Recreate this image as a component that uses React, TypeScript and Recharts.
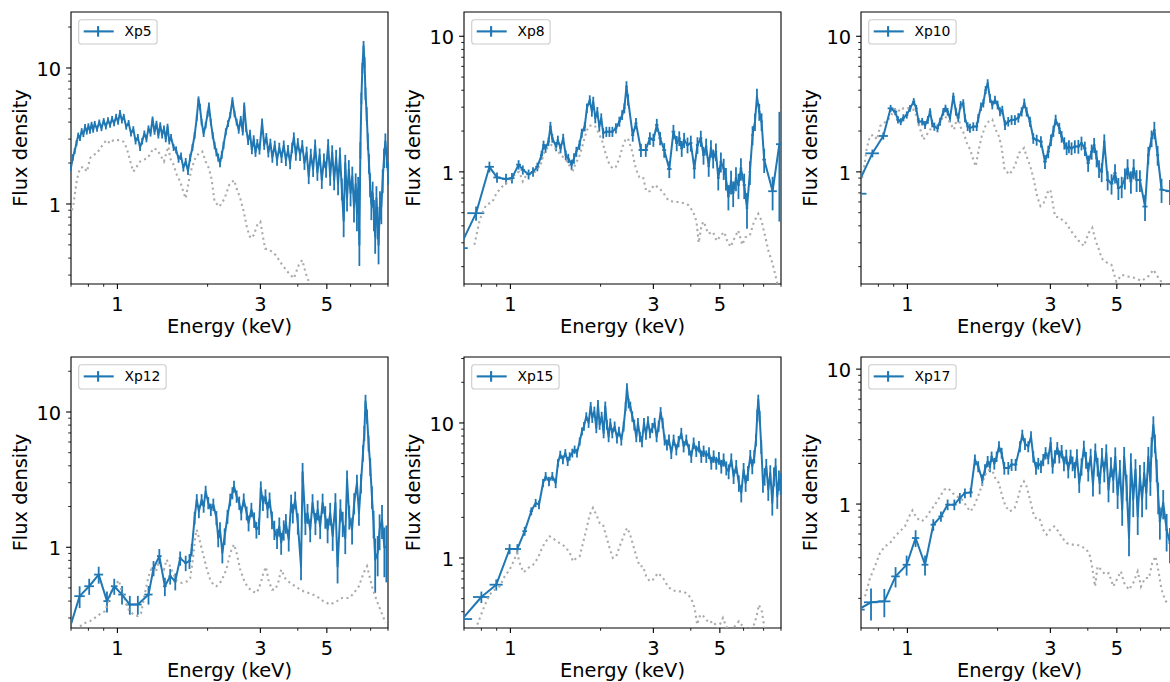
import React from 'react';
import { ComposedChart, Scatter, XAxis, YAxis, ErrorBar, ReferenceArea, Legend } from 'recharts';

const BLUE = '#1f77b4';
const GRAY = '#ababab';
const FONT = '"DejaVu Sans", sans-serif';

// axis range and tick values
const X_MIN = 0.7;
const X_MAX = 8;
const X_TICKS = [0.7, 0.8, 0.9, 1, 2, 3, 4, 5, 6, 7, 8];
const X_LABELED = [1, 3, 5];
const Y_TICKS = [0.1, 0.2, 0.3, 0.4, 0.5, 0.6, 0.7, 0.8, 0.9, 1, 2, 3, 4, 5, 6, 7, 8, 9, 10, 20, 30];
const Y_LABELED = [1, 10];

// observed spectra: [energy keV, flux, flux error, energy half-width]
const xp5Obs: number[][] = [
  [0.70,1.85,0.1],[0.71,2.2,0.12],[0.72,2.45,0.12],[0.73,2.8,0.14],[0.74,3.2,0.15],[0.75,3.05,0.15],[0.76,3.45,0.16],[0.77,3.25,0.15],
  [0.78,3.7,0.17],[0.79,3.4,0.16],[0.80,3.75,0.17],[0.81,3.45,0.16],[0.82,3.85,0.17],[0.83,3.5,0.16],[0.84,3.9,0.18],[0.855,3.55,0.16],
  [0.87,4.0,0.18],[0.885,3.6,0.17],[0.90,4.1,0.18],[0.915,3.7,0.17],[0.93,4.15,0.19],[0.945,3.8,0.17],[0.96,4.25,0.19],[0.975,3.9,0.18],
  [0.99,4.4,0.2],[1.005,4.0,0.18],[1.02,4.7,0.21],[1.035,4.1,0.19],[1.05,4.4,0.2],[1.07,3.7,0.18],[1.09,3.95,0.19],[1.11,3.3,0.17],
  [1.13,3.55,0.18],[1.15,2.9,0.16],[1.17,3.1,0.17],[1.19,2.6,0.15],[1.21,2.9,0.16],[1.23,3.3,0.17],[1.25,3.0,0.16],[1.27,3.6,0.18],
  [1.29,3.3,0.17],[1.31,4.2,0.2],[1.33,3.4,0.17],[1.35,3.9,0.19],[1.37,3.2,0.17],[1.39,3.8,0.19],[1.41,3.2,0.17],[1.43,3.6,0.18],
  [1.45,3.0,0.16],[1.47,3.7,0.19],[1.49,2.9,0.16],[1.51,3.1,0.17],[1.54,2.6,0.15],[1.57,2.5,0.15],[1.60,2.15,0.14],[1.63,2.25,0.14],
  [1.66,1.85,0.12],[1.69,2.05,0.13],[1.72,1.75,0.12],[1.75,2.2,0.14],[1.78,2.6,0.15],[1.81,3.2,0.18],[1.84,4.3,0.22],[1.865,5.9,0.28],
  [1.885,5.2,0.26],[1.91,4.0,0.22],[1.94,3.3,0.19],[1.97,3.8,0.21],[2.0,4.6,0.24],[2.02,5.3,0.27],[2.05,4.0,0.22],[2.08,3.2,0.19],
  [2.11,2.7,0.17],[2.14,2.4,0.16],[2.17,2.2,0.15],[2.20,2.0,0.14],[2.23,2.3,0.15],[2.26,2.7,0.17],[2.30,3.4,0.2],[2.34,3.9,0.22],
  [2.38,4.5,0.24],[2.42,5.8,0.3],[2.46,4.6,0.25],[2.50,4.0,0.23],[2.54,3.5,0.21],[2.58,4.2,0.24],[2.62,3.4,0.21],[2.65,5.3,0.28],
  [2.69,3.6,0.22],[2.73,2.9,0.19],[2.77,3.3,0.21],[2.81,2.5,0.18],[2.85,3.0,0.2],[2.89,2.4,0.18],[2.93,2.8,0.2],[2.98,2.5,0.19],
  [3.04,4.0,0.26],[3.09,2.7,0.2],[3.14,3.1,0.22],[3.19,2.4,0.2],[3.24,2.8,0.22],[3.29,2.2,0.19],[3.35,2.7,0.22],[3.41,2.1,0.19],
  [3.47,2.6,0.22],[3.53,2.2,0.2],[3.59,2.7,0.23],[3.65,2.1,0.2],[3.71,2.5,0.22],[3.77,2.0,0.2],[3.83,2.6,0.23],[3.88,3.1,0.26],
  [3.94,2.3,0.22],[4.0,2.8,0.25],[4.07,2.3,0.23],[4.14,2.7,0.25],[4.21,2.0,0.22],[4.28,2.4,0.24],[4.35,1.6,0.2],[4.42,2.3,0.25],
  [4.50,1.8,0.22],[4.57,2.7,0.28],[4.65,1.7,0.22],[4.73,2.3,0.26],[4.81,1.5,0.21],[4.89,2.1,0.25],[4.97,1.8,0.24],[5.05,2.7,0.3],
  [5.13,1.6,0.24],[5.21,2.4,0.3],[5.29,1.5,0.24],[5.37,2.2,0.3],[5.45,1.4,0.24],[5.53,2.3,0.3],[5.61,1.3,0.24],[5.69,0.75,0.18],
  [5.76,2.0,0.3],[5.84,1.1,0.22],[5.92,1.8,0.3],[6.0,1.2,0.24],[6.08,1.6,0.28],[6.16,0.95,0.22],[6.24,1.4,0.28],[6.30,0.85,0.22],
  [6.36,1.3,0.28],[6.42,0.5,0.15],[6.47,2.5,0.35],[6.52,6.0,0.6],[6.57,10.0,0.9],[6.63,14.5,1.3],[6.68,11.0,1.0],[6.73,6.5,0.7],
  [6.79,4.6,0.55],[6.85,2.9,0.4],[6.91,2.0,0.33],[6.97,1.4,0.28],[7.04,1.0,0.24],[7.11,1.2,0.26],[7.18,0.85,0.22],[7.25,0.58,0.15],
  [7.32,1.1,0.25],[7.38,0.75,0.2],[7.44,0.5,0.14],[7.52,1.0,0.24],[7.60,0.95,0.24],[7.68,1.5,0.3],[7.76,2.2,0.36],[7.84,2.9,0.4],
  [7.92,2.2,0.36],[8.0,1.7,0.32],
];

const xp8Obs: number[][] = [
  [0.675,0.274,0.03,0.045],[0.768,0.496,0.06,0.05],[0.851,1.09,0.1,0.03],[0.902,0.91,0.08,0.025],[0.967,0.887,0.08,0.03],
  [1.012,0.90,0.08,0.02],[1.065,1.13,0.09,0.02],[1.10,1.035,0.08,0.018],[1.15,0.96,0.08,0.02],[1.19,1.0,0.08,0.02],
  [1.23,1.09,0.08,0.02],[1.27,1.33,0.1,0.015],[1.29,1.58,0.12,0.012],[1.31,1.49,0.11,0.012],[1.34,1.67,0.12,0.012],
  [1.36,2.16,0.18,0.012],[1.38,1.77,0.13,0.012],[1.42,1.54,0.12,0.015],[1.44,1.72,0.13,0.012],[1.47,1.49,0.12,0.012],
  [1.50,1.77,0.14,0.012],[1.53,1.33,0.11,0.012],[1.56,1.26,0.1,0.012],[1.60,1.13,0.1,0.015],[1.63,1.26,0.11,0.012],
  [1.66,1.41,0.12,0.012],[1.70,1.58,0.13,0.015],[1.73,1.93,0.15,0.012],[1.77,2.16,0.17,0.015],[1.80,2.95,0.24,0.012],
  [1.84,3.39,0.28,0.012],[1.87,2.78,0.23,0.012],[1.89,3.30,0.28,0.01],[1.92,2.49,0.21,0.012],[1.95,2.78,0.23,0.012],
  [1.98,2.16,0.18,0.012],[2.01,2.49,0.21,0.012],[2.04,1.93,0.17,0.015],[2.09,1.98,0.17,0.025],[2.14,1.98,0.17,0.025],
  [2.19,1.98,0.17,0.025],[2.25,2.10,0.18,0.025],[2.31,2.35,0.2,0.025],[2.36,2.63,0.22,0.02],[2.40,2.95,0.25,0.02],
  [2.44,4.26,0.4,0.02],[2.47,3.4,0.33,0.02],[2.56,1.87,0.2,0.03],[2.625,2.28,0.22,0.03],[2.727,1.45,0.16,0.05],
  [2.83,1.45,0.16,0.05],[2.92,1.77,0.19,0.04],[3.0,1.72,0.19,0.04],[3.08,2.22,0.24,0.04],[3.16,1.77,0.2,0.04],
  [3.26,1.45,0.18,0.05],[3.39,1.05,0.15,0.06],[3.50,1.98,0.24,0.05],[3.59,1.63,0.21,0.04],[3.66,1.77,0.22,0.04],
  [3.73,1.49,0.2,0.04],[3.80,1.72,0.22,0.04],[3.90,1.58,0.21,0.05],[4.0,1.63,0.22,0.05],[4.11,1.06,0.17,0.05],
  [4.21,1.58,0.22,0.05],[4.32,1.77,0.24,0.05],[4.41,1.33,0.2,0.04],[4.50,1.54,0.22,0.04],[4.59,1.10,0.18,0.04],
  [4.67,1.49,0.22,0.04],[4.75,1.26,0.2,0.04],[4.85,1.41,0.21,0.05],[4.94,0.90,0.17,0.05],[5.04,1.19,0.2,0.05],
  [5.15,1.06,0.19,0.05],[5.24,0.90,0.17,0.05],[5.34,0.66,0.14,0.05],[5.45,0.85,0.17,0.05],[5.54,0.70,0.15,0.05],
  [5.66,0.90,0.18,0.05],[5.77,0.80,0.17,0.05],[5.88,1.06,0.2,0.06],[6.03,0.80,0.17,0.07],[6.16,0.54,0.16,0.06],
  [6.30,1.0,0.2,0.06],[6.43,1.87,0.3,0.06],[6.55,2.35,0.35,0.05],[6.65,3.6,0.5,0.05],[6.77,2.78,0.4,0.06],
  [6.89,2.35,0.35,0.06],[7.03,1.23,0.25,0.1],[7.50,0.72,0.2,0.25],[7.90,1.6,1.17,0.2],
];

const xp10Obs: number[][] = [
  [0.66,0.69,0.05,0.07],[0.764,1.37,0.09,0.04],[0.831,1.84,0.11,0.03],[0.879,2.94,0.18,0.02],[0.91,2.78,0.16,0.015],
  [0.93,2.42,0.15,0.012],[0.95,2.35,0.14,0.012],[0.97,2.51,0.15,0.012],[0.995,2.63,0.16,0.012],[1.02,2.94,0.17,0.012],
  [1.05,3.30,0.2,0.012],[1.07,2.94,0.18,0.012],[1.09,2.35,0.15,0.012],[1.12,2.35,0.15,0.015],[1.145,2.22,0.15,0.012],
  [1.17,2.42,0.16,0.012],[1.19,2.78,0.17,0.012],[1.21,2.28,0.15,0.012],[1.23,2.16,0.15,0.012],[1.26,2.10,0.14,0.015],
  [1.285,2.35,0.16,0.012],[1.318,2.78,0.18,0.012],[1.34,2.94,0.19,0.012],[1.362,2.78,0.18,0.012],[1.387,2.49,0.17,0.012],
  [1.423,3.59,0.25,0.015],[1.452,2.78,0.19,0.012],[1.478,2.49,0.17,0.012],[1.505,3.12,0.21,0.012],[1.536,3.21,0.22,0.012],
  [1.556,2.49,0.17,0.012],[1.589,2.16,0.16,0.015],[1.617,2.10,0.16,0.012],[1.659,2.16,0.16,0.02],[1.703,2.16,0.16,0.02],
  [1.724,2.49,0.18,0.012],[1.76,3.03,0.22,0.015],[1.792,3.21,0.23,0.015],[1.824,4.02,0.28,0.015],[1.853,4.50,0.32,0.012],
  [1.886,3.49,0.26,0.012],[1.92,3.12,0.23,0.015],[1.96,3.40,0.25,0.015],[2.0,3.12,0.23,0.015],[2.037,2.78,0.21,0.015],
  [2.073,2.86,0.21,0.015],[2.117,2.22,0.18,0.02],[2.17,2.35,0.19,0.025],[2.227,2.42,0.2,0.025],[2.285,2.42,0.2,0.025],
  [2.345,2.51,0.2,0.025],[2.406,2.78,0.22,0.025],[2.455,3.21,0.26,0.02],[2.50,2.78,0.22,0.02],[2.565,2.35,0.2,0.03],
  [2.631,1.77,0.16,0.03],[2.70,1.72,0.16,0.035],[2.79,1.67,0.16,0.04],[2.878,1.19,0.14,0.04],[2.952,1.41,0.15,0.035],
  [3.014,1.72,0.17,0.03],[3.07,2.0,0.19,0.025],[3.124,2.42,0.22,0.025],[3.213,2.10,0.2,0.03],[3.271,1.82,0.18,0.03],
  [3.339,1.63,0.17,0.03],[3.40,1.49,0.16,0.03],[3.46,1.54,0.17,0.03],[3.53,1.49,0.16,0.04],[3.62,1.54,0.17,0.04],
  [3.72,1.54,0.18,0.05],[3.81,1.63,0.19,0.04],[3.91,1.49,0.18,0.05],[4.01,1.16,0.16,0.05],[4.12,1.41,0.18,0.05],
  [4.20,1.58,0.2,0.04],[4.28,1.26,0.18,0.04],[4.36,1.06,0.16,0.04],[4.45,1.0,0.16,0.04],[4.54,1.67,0.22,0.04],
  [4.66,0.87,0.14,0.06],[4.80,0.82,0.14,0.07],[4.93,0.98,0.16,0.06],[5.06,0.76,0.14,0.06],[5.19,0.78,0.14,0.06],
  [5.32,0.90,0.16,0.06],[5.43,1.06,0.18,0.05],[5.57,0.85,0.16,0.06],[5.69,1.06,0.18,0.06],[5.82,0.87,0.16,0.06],
  [5.97,0.87,0.16,0.08],[6.21,0.555,0.12,0.12],[6.37,1.33,0.2,0.06],[6.53,1.77,0.25,0.06],[6.67,2.04,0.3,0.06],
  [6.84,1.33,0.22,0.08],[7.05,0.74,0.15,0.12],[7.52,0.72,0.15,0.25],[8.0,0.7,0.15,0.2],
];

const xp12Obs: number[][] = [
  [0.68,0.22,0.04,0.03],[0.748,0.435,0.08,0.03],[0.805,0.515,0.07,0.03],[0.866,0.628,0.09,0.03],[0.923,0.40,0.07,0.025],
  [0.976,0.515,0.07,0.025],[1.036,0.447,0.07,0.03],[1.10,0.377,0.06,0.035],[1.17,0.377,0.06,0.035],[1.27,0.447,0.07,0.04],
  [1.32,0.70,0.09,0.02],[1.38,0.86,0.11,0.025],[1.44,0.515,0.08,0.02],[1.50,0.61,0.08,0.02],[1.56,0.56,0.08,0.02],
  [1.62,0.83,0.1,0.02],[1.69,0.766,0.1,0.02],[1.74,0.79,0.1,0.02],[1.77,0.96,0.1,0.015],[1.81,1.65,0.18],
  [1.84,2.25,0.22],[1.87,1.84,0.2],[1.91,2.25,0.22],[1.94,2.0,0.2],[1.97,2.59,0.26],[2.01,2.13,0.22],[2.05,1.90,0.2],
  [2.09,2.07,0.22],[2.14,1.65,0.2],[2.17,1.17,0.17],[2.20,1.35,0.18],[2.24,0.91,0.15],[2.28,1.21,0.17],[2.33,1.69,0.2],
  [2.38,2.25,0.24],[2.42,2.52,0.26],[2.45,2.82,0.28],[2.50,2.38,0.25],[2.55,2.13,0.24],[2.59,1.79,0.21],[2.64,2.25,0.25],
  [2.70,1.79,0.21],[2.74,1.51,0.2],[2.80,1.90,0.23],[2.86,1.60,0.21],[2.91,1.35,0.19],[2.97,1.43,0.2],[3.01,2.74,0.33],
  [3.06,2.13,0.28],[3.12,2.38,0.3],[3.17,1.90,0.26],[3.22,2.25,0.29],[3.28,1.60,0.24],[3.34,1.35,0.22],[3.41,1.17,0.2],
  [3.47,1.43,0.23],[3.52,1.08,0.2],[3.59,1.35,0.23],[3.65,1.51,0.25],[3.73,1.14,0.21],[3.80,2.13,0.32],[3.85,1.79,0.29],
  [3.92,2.25,0.33],[4.0,1.51,0.27],[4.10,0.72,0.15],[4.15,3.6,0.6],[4.24,1.51,0.28],[4.31,1.79,0.3],[4.40,1.35,0.26],
  [4.48,2.13,0.34],[4.58,1.51,0.28],[4.66,1.90,0.32],[4.75,1.43,0.28],[4.84,2.13,0.36],[4.94,1.69,0.32],[5.03,1.35,0.28],
  [5.13,1.79,0.34],[5.23,1.21,0.27],[5.34,2.13,0.38],[5.43,0.72,0.18],[5.55,1.90,0.36],[5.65,1.51,0.32],[5.76,1.17,0.28],
  [5.84,3.2,0.5],[5.94,1.69,0.34],[6.07,1.35,0.3],[6.17,2.13,0.38],[6.30,2.98,0.45],[6.40,1.79,0.35],[6.50,2.98,0.48],
  [6.60,4.98,0.7],[6.67,7.0,0.9],[6.73,12.0,1.4],[6.81,9.3,1.1],[6.89,5.9,0.8],[6.98,3.96,0.6],[7.07,2.38,0.45],
  [7.16,1.51,0.35],[7.25,0.81,0.35],[7.39,0.91,0.3],[7.50,1.35,0.4],[7.64,1.60,0.45],[7.78,1.0,0.4],[7.90,1.0,0.45],
];

const xp15Obs: number[][] = [
  [0.69,0.353,0.03,0.055],[0.80,0.514,0.05,0.05],[0.897,0.634,0.06,0.045],[0.994,1.166,0.1,0.035],[1.055,1.166,0.1,0.03],
  [1.116,1.58,0.12,0.02],[1.174,2.22,0.15,0.015],[1.214,2.56,0.18],[1.246,2.48,0.18],[1.285,3.59,0.25],[1.311,4.03,0.3],
  [1.345,3.70,0.3],[1.380,4.03,0.3],[1.416,3.59,0.3],[1.441,5.06,0.35],[1.467,5.83,0.4],[1.497,5.35,0.4],[1.525,6.0,0.4],
  [1.553,5.2,0.4],[1.577,5.66,0.4],[1.609,6.0,0.45],[1.638,6.35,0.45],[1.668,6.0,0.45],[1.703,7.3,0.5],[1.733,8.67,0.6],
  [1.760,9.45,0.7],[1.792,11.2,0.8],[1.824,10.0,0.8],[1.853,13.3,1.0],[1.876,10.9,0.9],[1.906,12.2,1.0],[1.935,9.2,0.8],
  [1.960,13.7,1.1],[1.985,9.7,0.8],[2.016,11.2,0.9],[2.047,8.4,0.7],[2.073,13.3,1.1],[2.100,9.7,0.8],[2.127,7.9,0.7],
  [2.155,10.0,0.8],[2.188,8.4,0.7],[2.228,9.45,0.8],[2.268,7.75,0.7],[2.303,8.67,0.7],[2.345,7.5,0.7],[2.387,9.45,0.8],
  [2.424,13.3,1.1],[2.449,18.2,1.5],[2.481,14.0,1.2],[2.513,13.3,1.1],[2.551,11.2,1.0],[2.591,9.7,0.9],[2.631,7.9,0.7],
  [2.665,10.0,0.9],[2.706,7.9,0.7],[2.749,7.3,0.7],[2.791,10.0,0.9],[2.834,8.2,0.7],[2.878,10.3,0.9],[2.923,8.4,0.7],
  [2.976,9.2,0.8],[3.029,10.0,0.9],[3.076,7.9,0.7],[3.124,9.5,0.9],[3.172,12.0,1.1],[3.221,10.0,0.9],[3.271,7.5,0.7],
  [3.330,6.9,0.65],[3.382,7.5,0.7],[3.443,6.0,0.6],[3.505,7.5,0.7],[3.579,6.35,0.6],[3.642,7.3,0.7],[3.718,8.4,0.8],
  [3.786,6.7,0.65],[3.864,7.5,0.7],[3.945,6.35,0.6],[4.014,5.66,0.6],[4.088,7.1,0.7],[4.172,6.2,0.6],[4.259,6.7,0.65],
  [4.336,5.66,0.6],[4.414,6.2,0.6],[4.506,5.66,0.6],[4.600,6.0,0.6],[4.682,5.06,0.55],[4.767,5.66,0.6],[4.865,5.06,0.55],
  [4.965,5.5,0.6],[5.056,4.77,0.55],[5.147,5.35,0.6],[5.254,4.64,0.55],[5.350,4.38,0.55],[5.460,5.35,0.6],[5.558,4.03,0.5],
  [5.671,4.77,0.55],[5.786,3.59,0.5],[5.895,3.03,0.45],[6.002,4.5,0.55],[6.096,3.59,0.5],[6.206,4.26,0.55],[6.318,5.66,0.65],
  [6.416,4.77,0.6],[6.515,5.66,0.65],[6.600,7.5,0.8],[6.667,11.5,1.1],[6.718,14.9,1.3],[6.788,11.2,1.1],[6.874,6.7,0.8],
  [6.964,3.59,0.55],[7.053,4.03,0.6],[7.144,4.77,0.65],[7.255,3.2,0.55],[7.367,4.26,0.6],[7.482,2.56,0.5],[7.578,4.03,0.65],
  [7.675,4.77,0.7],[7.774,2.86,0.55],[7.875,3.8,0.65],[7.976,3.59,0.65],
];

const xp17Obs: number[][] = [
  [0.685,0.165,0.02,0.035],[0.756,0.187,0.05,0.04],[0.8375,0.19,0.045,0.04],[0.913,0.291,0.05,0.03],[0.994,0.355,0.06,0.03],
  [1.065,0.56,0.08,0.03],[1.145,0.355,0.06,0.03],[1.22,0.703,0.07,0.025],[1.294,0.81,0.07,0.025],[1.362,0.99,0.09,0.025],
  [1.434,0.99,0.09,0.025],[1.496,1.107,0.1,0.02],[1.556,1.206,0.1,0.02],[1.626,1.22,0.1,0.025],[1.68,2.13,0.2,0.015],
  [1.723,1.90,0.18,0.015],[1.778,1.51,0.15,0.015],[1.815,1.80,0.17,0.015],[1.853,2.07,0.2,0.012],[1.886,1.90,0.18,0.012],
  [1.91,2.25,0.2,0.012],[1.95,2.0,0.2,0.015],[1.985,2.25,0.2,0.012],[2.021,2.67,0.25,0.015],[2.063,2.39,0.22,0.015],
  [2.106,1.85,0.2,0.02],[2.171,1.85,0.2,0.03],[2.227,1.96,0.2,0.025],[2.297,1.96,0.2,0.03],[2.375,2.67,0.25,0.02],
  [2.418,3.26,0.3,0.015],[2.468,2.80,0.28,0.015],[2.531,2.67,0.25,0.02],[2.585,3.17,0.3,0.02],[2.631,2.25,0.22,0.015],
  [2.686,1.85,0.2,0.02],[2.734,2.0,0.2,0.02],[2.791,1.90,0.2,0.02],[2.841,2.13,0.22,0.02],[2.892,2.39,0.25,0.02],
  [2.952,2.19,0.22,0.02],[3.006,2.83,0.3,0.02],[3.052,1.90,0.22,0.02],[3.108,2.25,0.25,0.02],[3.164,2.60,0.28,0.02],
  [3.213,2.25,0.25,0.02],[3.271,2.46,0.28,0.02],[3.33,2.0,0.25,0.02],[3.39,2.25,0.28,0.02],[3.443,1.80,0.25,0.02],
  [3.505,2.25,0.28,0.02],[3.559,2.0,0.25,0.02],[3.623,1.80,0.25,0.02],[3.68,2.25,0.3,0.02],[3.745,1.43,0.22,0.02],
  [3.812,1.90,0.28,0.02],[3.88,2.60,0.35,0.02],[3.945,2.13,0.3,0.02],[4.014,1.75,0.28,0.02],[4.088,2.25,0.32,0.02],
  [4.162,1.39,0.25,0.02],[4.238,2.46,0.35,0.02],[4.314,1.90,0.3,0.02],[4.381,1.43,0.25,0.02],[4.46,2.25,0.35,0.02],
  [4.54,1.75,0.3,0.02],[4.61,2.39,0.38,0.02],[4.69,1.28,0.25,0.02],[4.78,1.90,0.32,0.02],[4.865,1.51,0.3,0.02],
  [4.94,2.25,0.38,0.02],[5.03,1.17,0.25,0.02],[5.12,1.80,0.32,0.02],[5.21,0.91,0.22,0.02],[5.29,2.25,0.4,0.02],
  [5.39,1.35,0.3,0.02],[5.49,0.56,0.15,0.03],[5.57,2.0,0.38,0.02],[5.67,1.08,0.28,0.02],[5.77,1.80,0.35,0.02],
  [5.87,0.81,0.22,0.02],[5.97,1.60,0.35,0.02],[6.07,1.08,0.28,0.02],[6.17,1.70,0.35,0.02],[6.27,1.21,0.3,0.02],
  [6.37,2.25,0.4,0.02],[6.47,1.47,0.32,0.02],[6.53,2.67,0.45,0.02],[6.62,3.87,0.6,0.02],[6.70,2.83,0.45,0.02],
  [6.79,1.80,0.35,0.02],[6.87,1.14,0.3,0.03],[6.96,0.745,0.2,0.06],[7.14,1.02,0.25,0.05],[7.33,0.645,0.2,0.07],
  [7.52,0.514,0.15,0.08],
];

// model curves (grey dotted): [energy keV, flux]
const modelA: number[][] = [
  [0.705,0.9],[0.714,1.01],[0.732,1.50],[0.75,1.83],[0.77,1.88],[0.792,1.73],[0.81,2.17],[0.83,2.29],[0.855,2.36],[0.877,2.57],
  [0.90,2.79],[0.92,2.95],[0.946,2.79],[0.97,2.95],[0.996,2.95],[1.022,2.95],[1.048,2.87],[1.075,2.57],[1.10,2.11],[1.13,1.73],
  [1.16,1.88],[1.19,2.05],[1.22,2.11],[1.26,2.17],[1.29,2.36],[1.32,2.57],[1.36,2.50],[1.39,2.29],[1.43,2.05],[1.46,2.43],
  [1.48,2.64],[1.50,2.17],[1.54,1.94],[1.58,1.63],[1.62,1.46],[1.66,1.23],[1.69,1.10],[1.73,1.46],[1.77,1.83],[1.82,2.17],
  [1.87,2.36],[1.92,2.43],[1.97,2.05],[2.02,1.83],[2.06,1.54],[2.11,1.04],[2.19,0.955],[2.28,1.10],[2.36,1.38],[2.45,1.50],
  [2.50,1.30],[2.57,1.10],[2.64,0.88],[2.71,0.66],[2.78,0.56],[2.85,0.59],[2.93,0.70],[3.0,0.74],[3.04,0.625],[3.11,0.47],
  [3.22,0.46],[3.38,0.42],[3.55,0.356],[3.73,0.31],[3.88,0.284],[4.03,0.356],[4.14,0.387],[4.25,0.31],[4.35,0.27],[4.45,0.23],
  [4.62,0.215],[4.80,0.206],[4.98,0.155],[5.19,0.174],[5.46,0.169],[5.74,0.165],[6.05,0.157],[6.37,0.17],[6.63,0.19],
  [6.78,0.174],[7.0,0.157],[7.5,0.14],[8.0,0.13],
];

const modelXp8: number[][] = [
  [0.758,0.29],[0.775,0.363],[0.79,0.443],[0.81,0.51],[0.83,0.57],[0.87,0.60],[0.90,0.70],[0.94,0.78],[0.98,0.85],[1.015,0.90],
  [1.04,0.98],[1.07,1.0],[1.10,0.85],[1.13,0.95],[1.16,0.98],[1.21,1.0],[1.26,1.13],[1.30,1.41],[1.34,1.54],[1.37,1.58],
  [1.41,1.49],[1.44,1.41],[1.48,1.33],[1.52,1.23],[1.55,1.19],[1.59,1.06],[1.62,1.03],[1.65,1.16],[1.69,1.26],[1.73,1.49],
  [1.78,1.87],[1.82,2.16],[1.88,2.22],[1.92,2.16],[1.97,1.93],[2.02,1.72],[2.07,1.41],[2.12,1.19],[2.19,1.06],[2.25,1.09],
  [2.31,1.26],[2.37,1.54],[2.43,1.77],[2.48,1.72],[2.55,1.41],[2.62,1.06],[2.69,0.92],[2.77,0.92],[2.84,0.72],[2.92,0.72],
  [3.02,0.80],[3.14,0.76],[3.24,0.70],[3.36,0.62],[3.50,0.60],[3.63,0.60],[3.77,0.59],[3.92,0.57],[4.07,0.51],[4.18,0.43],
  [4.25,0.30],[4.35,0.41],[4.42,0.43],[4.57,0.35],[4.74,0.36],[4.88,0.31],[5.04,0.34],[5.17,0.36],[5.29,0.31],[5.43,0.28],
  [5.58,0.32],[5.76,0.37],[5.94,0.29],[6.09,0.33],[6.30,0.34],[6.50,0.43],[6.72,0.49],[6.88,0.44],[7.03,0.36],[7.27,0.26],
  [7.50,0.21],[7.70,0.165],[7.82,0.14],[8.0,0.12],
];

const modelXp12: number[][] = [
  [0.75,0.26],[0.78,0.276],[0.81,0.284],[0.84,0.30],[0.87,0.318],[0.91,0.337],[0.96,0.486],[1.01,0.57],[1.03,0.486],[1.06,0.41],
  [1.09,0.346],[1.13,0.318],[1.17,0.31],[1.20,0.327],[1.23,0.435],[1.27,0.61],[1.30,0.70],[1.34,0.646],[1.37,0.766],[1.43,0.684],
  [1.46,0.81],[1.50,0.72],[1.54,0.63],[1.58,0.56],[1.64,0.545],[1.71,0.56],[1.75,0.59],[1.79,0.858],[1.82,1.21],[1.84,1.35],
  [1.89,1.08],[1.94,0.858],[1.99,0.684],[2.04,0.577],[2.09,0.53],[2.14,0.515],[2.22,0.56],[2.31,0.684],[2.38,0.908],[2.45,1.05],
  [2.50,0.908],[2.57,0.684],[2.64,0.577],[2.71,0.515],[2.81,0.473],[2.92,0.46],[3.01,0.545],[3.07,0.646],[3.13,0.716],[3.19,0.577],
  [3.28,0.486],[3.36,0.486],[3.44,0.545],[3.52,0.684],[3.63,0.59],[3.77,0.545],[4.0,0.50],[4.18,0.473],[4.40,0.455],[4.63,0.434],
  [4.86,0.40],[5.13,0.377],[5.41,0.40],[5.62,0.422],[5.94,0.422],[6.14,0.455],[6.40,0.515],[6.63,0.646],[6.81,0.724],[6.94,0.61],
  [7.12,0.486],[7.35,0.40],[7.58,0.337],[7.85,0.276],
];

const modelXp15: number[][] = [
  [0.75,0.27],[0.779,0.33],[0.818,0.438],[0.852,0.535],[0.886,0.582],[0.922,0.617],[0.957,0.732],[0.994,0.82],[1.025,0.945],
  [1.052,1.09],[1.079,0.89],[1.107,0.783],[1.145,0.843],[1.19,0.89],[1.236,1.0],[1.268,1.153],[1.301,1.29],[1.352,1.447],
  [1.405,1.367],[1.46,1.29],[1.517,1.22],[1.577,1.10],[1.617,0.945],[1.659,1.0],[1.703,1.03],[1.746,1.29],[1.792,1.62],
  [1.839,2.09],[1.886,2.35],[1.935,2.09],[1.985,1.82],[2.037,1.77],[2.089,1.447],[2.143,1.186],[2.198,1.0],[2.256,1.03],
  [2.315,1.22],[2.375,1.41],[2.449,1.67],[2.50,1.53],[2.565,1.255],[2.631,1.03],[2.70,0.868],[2.77,0.868],[2.84,0.732],
  [2.915,0.672],[2.99,0.69],[3.11,0.774],[3.23,0.711],[3.33,0.634],[3.44,0.582],[3.58,0.566],[3.72,0.566],[3.86,0.55],
  [4.01,0.505],[4.12,0.426],[4.20,0.321],[4.30,0.38],[4.41,0.37],[4.60,0.33],[4.75,0.34],[4.93,0.30],[5.12,0.36],[5.25,0.31],
  [5.46,0.29],[5.79,0.34],[5.97,0.31],[6.2,0.295],[6.47,0.31],[6.63,0.37],[6.75,0.45],[6.91,0.40],[7.05,0.30],[7.25,0.25],
];

const modelXp17: number[][] = [
  [0.722,0.207],[0.75,0.283],[0.779,0.345],[0.81,0.434],[0.842,0.486],[0.875,0.514],[0.909,0.576],[0.944,0.628],[0.981,0.683],
  [1.02,0.834],[1.04,0.898],[1.074,0.787],[1.118,0.744],[1.16,0.81],[1.19,0.882],[1.236,0.99],[1.285,1.14],[1.328,1.28],
  [1.369,1.31],[1.412,1.21],[1.46,1.14],[1.509,1.107],[1.563,0.99],[1.617,0.882],[1.659,0.934],[1.703,1.08],[1.746,1.24],
  [1.792,1.51],[1.839,1.745],[1.886,1.80],[1.935,1.70],[1.97,1.53],[2.02,1.43],[2.073,1.14],[2.127,0.96],[2.198,0.882],
  [2.28,0.934],[2.33,1.08],[2.393,1.35],[2.449,1.47],[2.50,1.35],[2.565,1.08],[2.631,0.858],[2.70,0.765],[2.77,0.765],
  [2.84,0.645],[2.915,0.593],[2.99,0.645],[3.092,0.683],[3.188,0.628],[3.29,0.56],[3.40,0.514],[3.53,0.50],[3.67,0.50],
  [3.81,0.486],[3.97,0.459],[4.07,0.41],[4.15,0.326],[4.23,0.245],[4.31,0.345],[4.43,0.326],[4.57,0.30],[4.70,0.308],
  [4.865,0.245],[5.03,0.283],[5.16,0.317],[5.29,0.26],[5.49,0.232],[5.67,0.26],[5.87,0.317],[6.02,0.245],[6.21,0.283],
  [6.40,0.283],[6.56,0.365],[6.73,0.41],[6.87,0.326],[7.05,0.232],[7.24,0.195],[7.42,0.18],
];

const PLOT_W = 317;
const PAD_L = 75;
const PAD_T = 12;
const PAD_B = 57;
const PAD_R = 8;

const XTick = (props: any) => {
  const { x, y, payload } = props;
  const v = payload?.value;
  const major = X_LABELED.includes(v);
  return (
    <g>
      <line x1={x} x2={x} y1={y} y2={y + (major ? 4.9 : 2.8)} stroke="#000" strokeWidth={major ? 1.1 : 0.85} />
      {major ? (
        <text x={x} y={y + 26.5} textAnchor="middle" fontSize={19.4} fontFamily={FONT} fill="#000">{String(v)}</text>
      ) : null}
    </g>
  );
};

const YTick = (props: any) => {
  const { x, y, payload } = props;
  const v = payload?.value;
  const major = Y_LABELED.includes(v);
  return (
    <g>
      <line x1={x} x2={x - (major ? 4.9 : 2.8)} y1={y} y2={y} stroke="#000" strokeWidth={major ? 1.1 : 0.85} />
      {major ? (
        <text x={x - 9.8} y={y + 8} textAnchor="end" fontSize={19.4} fontFamily={FONT} fill="#000">{String(v)}</text>
      ) : null}
    </g>
  );
};

const xLabel = (props: any) => {
  const vb = props.viewBox;
  if (!vb) return null;
  return (
    <text x={vb.x + vb.width / 2} y={vb.y + 49} textAnchor="middle" fontSize={19.4} fontFamily={FONT} fill="#000">
      Energy (keV)
    </text>
  );
};

const yLabel = (props: any) => {
  const vb = props.viewBox;
  if (!vb) return null;
  const cx = vb.x + vb.width - 43.7;
  const cy = vb.y + vb.height / 2;
  return (
    <text x={cx} y={cy} transform={`rotate(-90, ${cx}, ${cy})`} textAnchor="middle" fontSize={19.4} fontFamily={FONT} fill="#000">
      Flux density
    </text>
  );
};

const NoShape = () => <g />;

interface PanelProps {
  name: string;
  obs: number[][];
  model: number[][];
  yDomain: [number, number];
  left: number;
  top: number;
  plotH: number;
  legendW: number;
}

// error bars are not clipped by the chart, so limit them to the visible axes box
function toObsPoints(obs: number[][], yDomain: [number, number]) {
  return obs.map((r) => {
    const e = r[0];
    const f = r[1];
    const df = r[2] ?? 0;
    const de = r[3] ?? 0;
    const xIn = e >= X_MIN && e <= X_MAX;
    const yIn = f >= yDomain[0] && f <= yDomain[1];
    let xErr: [number, number] = [0, 0];
    if (yIn && e + de > X_MIN && e - de < X_MAX) {
      xErr = [Math.min(de, e - X_MIN), Math.min(de, X_MAX - e)];
    }
    const yErr: [number, number] = xIn && yIn ? [Math.min(df, f - yDomain[0] * 1.0001), Math.min(df, yDomain[1] - f)] : [0, 0];
    return { e, f, df: yErr, de: xErr };
  });
}

function Panel({ name, obs, model, yDomain, left, top, plotH, legendW }: PanelProps) {
  const obsPts = toObsPoints(obs, yDomain);
  const modelPts = model.map((r) => ({ e: r[0], f: r[1] }));
  const yTicks = Y_TICKS.filter((t) => t >= yDomain[0] && t <= yDomain[1]);
  const legend = () => (
    <svg width={legendW + 2} height={27} style={{ display: 'block', overflow: 'visible' }}>
      <rect x={0.7} y={0.7} width={legendW} height={24.3} rx={2.8} ry={2.8} fill="#fff" fillOpacity={0.8} stroke="#cccccc" strokeWidth={1.1} />
      <line x1={5.7} x2={35.7} y1={12.4} y2={12.4} stroke={BLUE} strokeWidth={2.1} />
      <line x1={20.1} x2={20.1} y1={7.1} y2={17.7} stroke={BLUE} strokeWidth={2.1} />
      <text x={46.4} y={17.4} fontSize={13.9} fontFamily={FONT} fill="#000">{name}</text>
    </svg>
  );
  return (
    <div style={{ position: 'absolute', left: left - PAD_L, top: top - PAD_T }}>
      <ComposedChart
        width={PAD_L + PLOT_W + PAD_R}
        height={PAD_T + plotH + PAD_B}
        margin={{ top: PAD_T, right: PAD_R, bottom: 0, left: 0 }}
      >
        <XAxis
          dataKey="e"
          type="number"
          scale="log"
          domain={[X_MIN, X_MAX]}
          allowDataOverflow
          ticks={X_TICKS}
          interval={0}
          tick={<XTick />}
          tickLine={false}
          axisLine={false}
          tickSize={0}
          tickMargin={0}
          height={PAD_B}
          label={xLabel}
        />
        <YAxis
          dataKey="f"
          type="number"
          scale="log"
          domain={yDomain}
          allowDataOverflow
          ticks={yTicks}
          interval={0}
          tick={<YTick />}
          tickLine={false}
          axisLine={false}
          tickSize={0}
          tickMargin={0}
          width={PAD_L}
          label={yLabel}
        />
        <Scatter
          data={modelPts}
          fill={GRAY}
          line={{ stroke: GRAY, strokeWidth: 2.1, strokeDasharray: '2.1 3.4' }}
          shape={NoShape}
          legendType="none"
          isAnimationActive={false}
        />
        <Scatter
          data={obsPts}
          fill={BLUE}
          line={{ stroke: BLUE, strokeWidth: 2, strokeLinejoin: 'round' }}
          shape={NoShape}
          legendType="none"
          isAnimationActive={false}
        >
          <ErrorBar dataKey="df" direction="y" width={0} stroke={BLUE} strokeWidth={1.8} isAnimationActive={false} />
          <ErrorBar dataKey="de" direction="x" width={0} stroke={BLUE} strokeWidth={1.8} isAnimationActive={false} />
        </Scatter>
        <ReferenceArea
          x1={X_MIN}
          x2={X_MAX}
          y1={yDomain[0]}
          y2={yDomain[1]}
          ifOverflow="visible"
          fill="none"
          fillOpacity={0}
          stroke="#000"
          strokeWidth={1.1}
        />
        <Legend
          layout="horizontal"
          verticalAlign="middle"
          align="center"
          content={legend}
          wrapperStyle={{ left: PAD_L + 7.6 - 0.7, top: PAD_T + 7.7 - 0.7, width: legendW + 4, height: 27 }}
        />
      </ComposedChart>
    </div>
  );
}

const PANELS: PanelProps[] = [
  { name: 'Xp5', obs: xp5Obs, model: modelA, yDomain: [0.258, 25.8], left: 70.7, top: 12.3, plotH: 272, legendW: 78.4 },
  { name: 'Xp8', obs: xp8Obs, model: modelXp8, yDomain: [0.149, 15.1], left: 464.3, top: 12.3, plotH: 272, legendW: 78.4 },
  { name: 'Xp10', obs: xp10Obs, model: modelA, yDomain: [0.149, 15.1], left: 860.7, top: 12.3, plotH: 272, legendW: 87.4 },
  { name: 'Xp12', obs: xp12Obs, model: modelXp12, yDomain: [0.253, 25.5], left: 70.7, top: 356.7, plotH: 271, legendW: 87.4 },
  { name: 'Xp15', obs: xp15Obs, model: modelXp15, yDomain: [0.303, 30.8], left: 464.0, top: 356.7, plotH: 271, legendW: 87.4 },
  { name: 'Xp17', obs: xp17Obs, model: modelXp17, yDomain: [0.1206, 12.3], left: 860.7, top: 356.7, plotH: 271, legendW: 87.4 },
];

export default function App() {
  return (
    <div style={{ position: 'fixed', left: 0, top: 0, width: 1170, height: 682, overflow: 'hidden', background: '#fff' }}>
      {PANELS.map((p) => (
        <Panel key={p.name} {...p} />
      ))}
    </div>
  );
}
